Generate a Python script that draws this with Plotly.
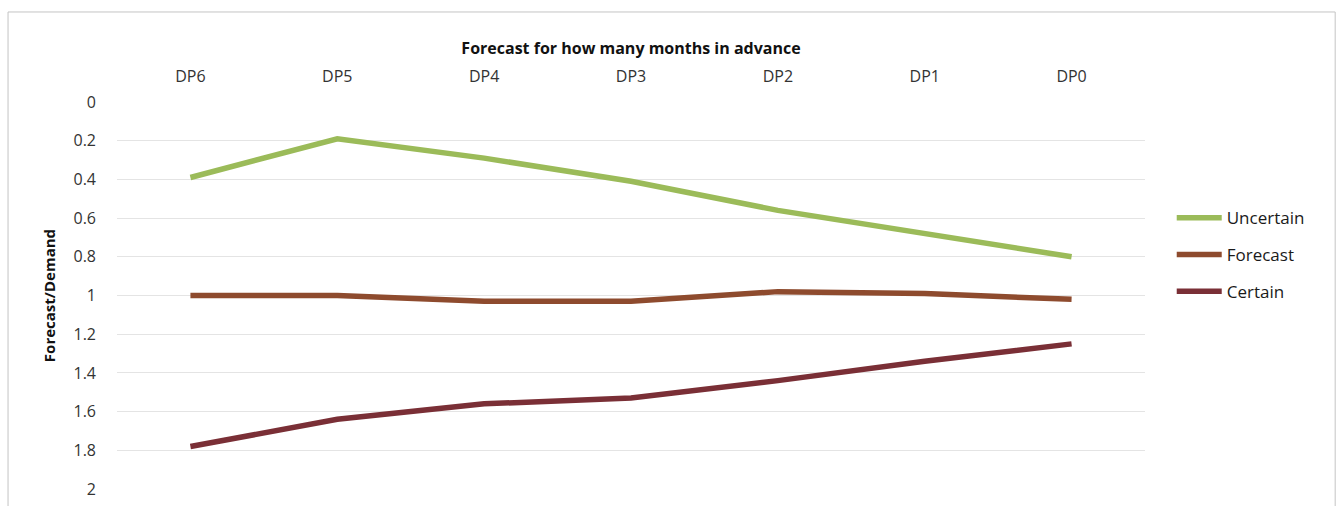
import plotly.graph_objects as go

# Forecast horizon categories (months before delivery)
categories = ["DP6", "DP5", "DP4", "DP3", "DP2", "DP1", "DP0"]

# Forecast/Demand ratio per series
uncertain = [0.39, 0.19, 0.29, 0.41, 0.56, 0.68, 0.80]
forecast = [1.00, 1.00, 1.03, 1.03, 0.98, 0.99, 1.02]
certain = [1.78, 1.64, 1.56, 1.53, 1.44, 1.34, 1.25]

y_ticks = [0, 0.2, 0.4, 0.6, 0.8, 1, 1.2, 1.4, 1.6, 1.8, 2]
y_tick_text = ["0", "0.2", "0.4", "0.6", "0.8", "1", "1.2", "1.4", "1.6", "1.8", "2"]

FONT = "'Open Sans', 'Noto Sans', sans-serif"

series = [
    ("Uncertain", uncertain, "#9bbb59", "legend"),
    ("Forecast", forecast, "#8e4b2e", "legend2"),
    ("Certain", certain, "#7a2f36", "legend3"),
]

fig = go.Figure()
for name, values, color, leg in series:
    fig.add_trace(go.Scatter(
        x=categories, y=values, name=name, mode="lines",
        line=dict(color=color, width=5.5),
        legend=leg,
    ))

legend_common = dict(
    xanchor="left", yanchor="middle", bgcolor="rgba(0,0,0,0)",
    font=dict(family=FONT, size=17, color="#1a1a1a"),
    itemwidth=45, indentation=0,
)

fig.update_layout(
    width=1339, height=506,
    margin=dict(l=117, r=194, t=102, b=17, autoexpand=False),
    paper_bgcolor="white", plot_bgcolor="white",
    font=dict(family=FONT, size=16, color="#333333"),
    showlegend=True,
    legend=dict(x=1.026, y=0.70, **legend_common),
    legend2=dict(x=1.026, y=0.605, **legend_common),
    legend3=dict(x=1.026, y=0.51, **legend_common),
    xaxis=dict(
        side="top", type="category", range=[-0.5, 6.5],
        showgrid=False, showline=False, zeroline=False, ticks="",
        ticklabelstandoff=16,
        tickfont=dict(family=FONT, size=16, color="#333333"),
        title=dict(text="<b>Forecast for how many months in advance</b>",
                   font=dict(family=FONT, size=16, color="#111111"),
                   standoff=6),
    ),
    yaxis=dict(
        range=[2, 0], tickmode="array", tickvals=y_ticks, ticktext=y_tick_text,
        showgrid=True, gridcolor="#e4e4e4", gridwidth=1,
        zeroline=False, showline=False, ticks="",
        ticklabelstandoff=20,
        tickfont=dict(family=FONT, size=16, color="#333333"),
        title=dict(text="<b>Forecast/Demand</b>",
                   font=dict(family=FONT, size=15, color="#111111"),
                   standoff=14),
    ),
    shapes=[dict(
        type="rect", xref="paper", yref="paper",
        x0=-0.106, x1=1.185, y0=-0.06, y1=1.2326,
        line=dict(color="#c4c4c4", width=1), fillcolor="rgba(0,0,0,0)",
        layer="below",
    )],
)

fig.write_html("out.html")
